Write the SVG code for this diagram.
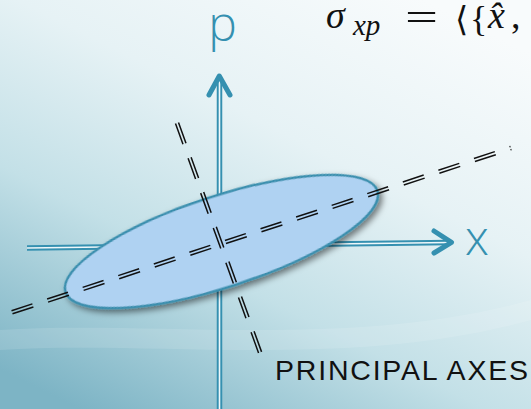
<svg xmlns="http://www.w3.org/2000/svg" width="531" height="409" viewBox="0 0 531 409">
  <defs>
    <linearGradient id="bg" x1="0.8" y1="0" x2="0.15" y2="1">
      <stop offset="0" stop-color="#f8fbfc"/>
      <stop offset="0.35" stop-color="#e6f2f5"/>
      <stop offset="0.65" stop-color="#c3e0e7"/>
      <stop offset="1" stop-color="#7db4c5"/>
    </linearGradient>
    <filter id="shadow" x="-20%" y="-40%" width="140%" height="180%">
      <feDropShadow dx="2" dy="4" stdDeviation="3" flood-color="#000" flood-opacity="0.5"/>
    </filter>
    <path id="major" d="M12,312.3 L511,148"/>
    <path id="minor" d="M177,123 L261,355"/>
  </defs>
  <style>
    .axis-outer { stroke: #3590b0; stroke-width: 5.5; fill: none; }
    .axis-inner { stroke: #eef7fa; stroke-width: 1.6; fill: none; }
    .head { stroke: #3590b0; stroke-width: 5; fill: none; stroke-linecap: round; stroke-linejoin: round; }
    .dash { stroke: #111; stroke-width: 1.5; fill: none; }
    .lbl { font-family: "Open Sans", "Liberation Sans", sans-serif; font-weight: 300; fill: #3590b0; }
    .math { font-family: "Liberation Serif", "DejaVu Serif", serif; fill: #111; }
  </style>
  <rect width="531" height="409" fill="url(#bg)"/>
  <path d="M0,330 C150,320 350,350 531,300 L531,320 C350,370 150,340 0,350 Z" fill="#ffffff" opacity="0.12"/>

  <g id="connectors">
    <g id="p-axis">
      <line class="axis-outer" x1="219.5" y1="80" x2="219.5" y2="409"/>
      <line class="axis-inner" x1="219.5" y1="80" x2="219.5" y2="409"/>
      <polyline class="head" points="209,95 219.3,76 230,95"/>
    </g>
    <g id="x-axis">
      <line class="axis-outer" x1="27" y1="248" x2="449" y2="242.5"/>
      <line class="axis-inner" x1="27" y1="248" x2="449" y2="242.5"/>
      <polyline class="head" points="434,231 451.5,242.3 434,253"/>
    </g>
  </g>

  <g id="ellipse">
    <ellipse cx="221.5" cy="241.5" rx="164" ry="45.4" transform="rotate(-18 221.5 241.5)" fill="#afd2f2" stroke="#3a8fae" stroke-width="2.5" filter="url(#shadow)"/>
  </g>

  <g id="principal-axes">
    <g stroke-dasharray="22 15.45">
      <use href="#major" class="dash" transform="translate(-0.5,-1.52)"/>
      <use href="#major" class="dash" transform="translate(0.5,1.52)"/>
    </g>
    <g stroke-dasharray="22 15">
      <use href="#minor" class="dash" transform="translate(-1.5,0.545)"/>
      <use href="#minor" class="dash" transform="translate(1.5,-0.545)"/>
    </g>
  </g>

  <g id="label-p"><text class="lbl" x="222.5" y="41" font-size="48" text-anchor="middle">p</text></g>
  <g id="label-x"><text class="lbl" x="465" y="255" font-size="48">x</text></g>
  <g id="label-principal"><text x="275" y="380" font-family="Liberation Sans, Arial, sans-serif" font-size="28.5" fill="#111" textLength="253">PRINCIPAL AXES</text></g>

  <g id="formula" class="math">
    <text x="326" y="28" font-size="38" font-style="italic">σ</text>
    <text x="353" y="35" font-size="29" font-style="italic">xp</text>
    <text x="405" y="31" font-size="40" textLength="33" lengthAdjust="spacingAndGlyphs">=</text>
    <text x="455" y="31" font-size="34" font-family="DejaVu Sans, sans-serif">⟨</text>
    <text x="470" y="31" font-size="36">{</text>
    <text x="488" y="28" font-size="38" font-style="italic">x̂</text>
    <text x="511" y="28" font-size="38">,</text>
  </g>
</svg>
